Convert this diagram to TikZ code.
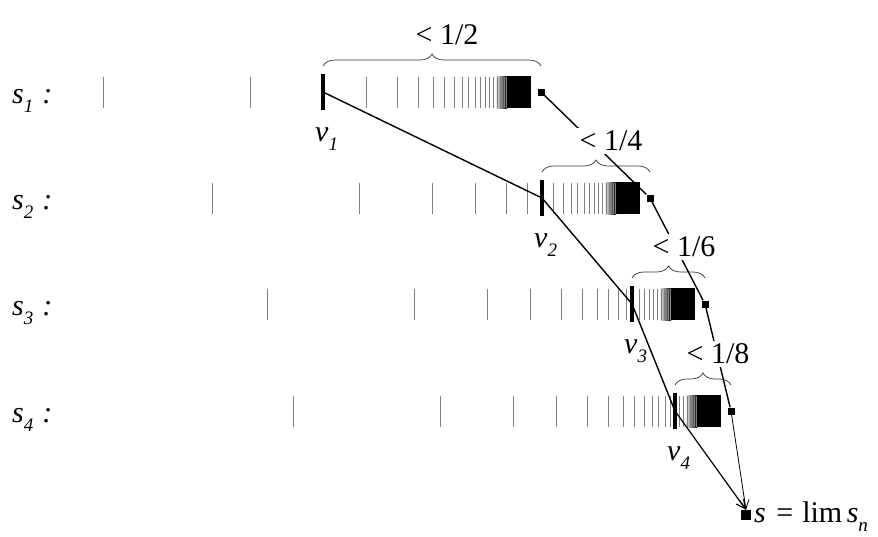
\documentclass[tikz,border=0pt]{standalone}
\usepackage{fontspec}
\setmainfont{Liberation Serif}
\usetikzlibrary{decorations.pathreplacing,arrows.meta}
\newcommand\mysub[1]{\raisebox{-0.33em}{\fontsize{19}{19}\selectfont\itshape #1}}
\def\seqlist{0,147,220,263,294,315,330,341,351,359,365,372,377,382,386.5,390.5,394,397,399.6,401.8,403.7}
\tikzset{
  seqtick/.style={draw=black!50,line width=0.8pt},
  vtick/.style={draw=black,line width=3.4pt},
  sqnode/.style={fill=black,minimum size=7pt,inner sep=0pt},
  limnode/.style={fill=black,minimum size=10pt,inner sep=0pt},
  bracestyle/.style={decorate,decoration={brace,amplitude=12pt},line width=0.7pt,draw=black!80},
  boundlab/.style={fill=white,inner sep=3pt,font=\fontsize{30}{36}\selectfont},
  txt/.style={anchor=base west,inner sep=0pt,font=\fontsize{30}{36}\selectfont},
  chain/.style={line width=1.4pt},
  thinarrow/.style={line width=0.8pt,-{Straight Barb[length=9pt,width=9pt]}},
  thickarrow/.style={line width=1.2pt,-{Straight Barb[length=9pt,width=9pt]}}
}
% #1 offset, #2 row y, #3 index of v_n
\newcommand\seqrow[3]{%
  \fill[left color=white,right color=black] (#1+392,#2-16) rectangle (#1+404,#2+16);
  \fill[black] (#1+404,#2-16) rectangle (#1+428,#2+16);
  \foreach \t [count=\k] in \seqlist {%
    \ifnum\k=#3\relax\else
      \draw[seqtick] (#1+\t,#2-15.5) -- (#1+\t,#2+15.5);
    \fi
  }%
}
\begin{document}
\begin{tikzpicture}[x=1pt,y=-1pt]
\useasboundingbox (0,0) rectangle (878,536);

% sequences
\seqrow{103}{92}{3}
\seqrow{212}{198}{7}
\seqrow{267}{304}{11}
\seqrow{293}{411}{14}

% v_n points
\coordinate (v1) at (323,92);
\coordinate (v2) at (542,198);
\coordinate (v3) at (632,304);
\coordinate (v4) at (675,411);
\draw[vtick] (323,74) -- (323,110);
\draw[vtick] (542,180) -- (542,216);
\draw[vtick] (632,286) -- (632,322);
\draw[vtick] (675,393) -- (675,429);

% bounds squares
\node[sqnode] (q1) at (541,92) {};
\node[sqnode] (q2) at (650,198) {};
\node[sqnode] (q3) at (705,304) {};
\node[sqnode] (q4) at (731,411) {};
\node[limnode] (lim) at (746,515) {};

% braces
\draw[bracestyle] (323,66) -- (541,66);
\draw[bracestyle] (542,172) -- (650,172);
\draw[bracestyle] (632,278) -- (705,278);
\draw[bracestyle] (675,385) -- (731,385);

% connectors
\draw[chain] (v1) -- (v2) -- (v3) -- (v4);
\draw[thickarrow] (v4) -- (lim.north);
\draw[chain] (q1) -- (q2) -- (q3) -- (q4);
\draw[thinarrow] (q4) -- (lim.north);

% bound labels
\node[boundlab] (b1) at (447,35) {< 1/2};
\node[boundlab] (b2) at (611,141) {< 1/4};
\node[boundlab] (b3) at (684,247) {< 1/6};
\node[boundlab] (b4) at (718,354) {< 1/8};

% row labels
\node[txt] (r1) at (12,103) {\itshape s\mysub{1}\hspace{0.3em}:};
\node[txt] (r2) at (12,209) {\itshape s\mysub{2}\hspace{0.3em}:};
\node[txt] (r3) at (12,315) {\itshape s\mysub{3}\hspace{0.3em}:};
\node[txt] (r4) at (12,422) {\itshape s\mysub{4}\hspace{0.3em}:};

% v labels
\node[txt] (l1) at (315,141) {\itshape v\mysub{1}};
\node[txt] (l2) at (534,247) {\itshape v\mysub{2}};
\node[txt] (l3) at (624,353) {\itshape v\mysub{3}};
\node[txt] (l4) at (667,460) {\itshape v\mysub{4}};

% limit label
\node[txt] (limlab) at (754,522) {\itshape s\upshape\hspace{0.35em}=\hspace{0.3em}lim\hspace{0.15em}\itshape s\mysub{n}};
\end{tikzpicture}
\end{document}
